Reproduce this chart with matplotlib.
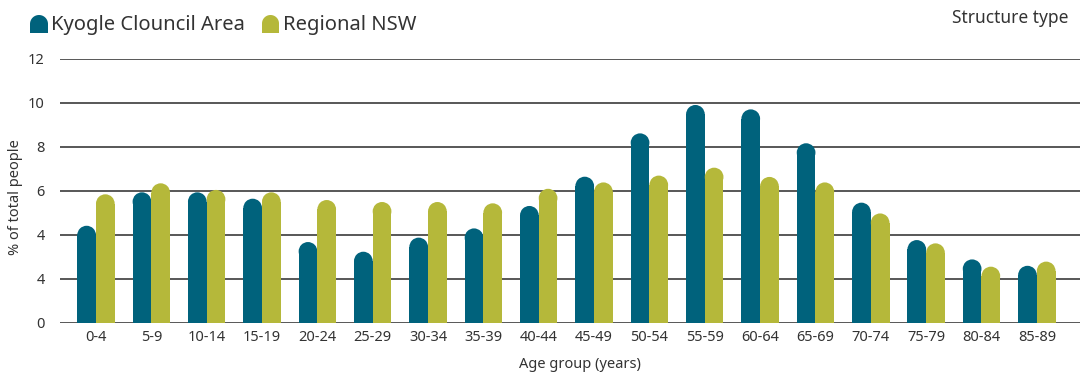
import matplotlib
matplotlib.use("Agg")
import matplotlib.pyplot as plt
from matplotlib.patches import Rectangle, Ellipse, Polygon
import numpy as np

categories = ["0-4", "5-9", "10-14", "15-19", "20-24", "25-29", "30-34", "35-39",
              "40-44", "45-49", "50-54", "55-59", "60-64", "65-69", "70-74",
              "75-79", "80-84", "85-89"]
kyogle = [4.42, 5.94, 5.94, 5.65, 3.68, 3.24, 3.88, 4.30, 5.32, 6.65, 8.62, 9.91,
          9.71, 8.17, 5.47, 3.77, 2.89, 2.60]
regional = [5.85, 6.35, 6.05, 5.94, 5.59, 5.50, 5.50, 5.44, 6.10, 6.39, 6.70, 7.06,
            6.64, 6.39, 4.98, 3.62, 2.56, 2.79]
ytick_values = [0, 2, 4, 6, 8, 10, 12]
ytick_labels = ["0", "4", "4", "6", "8", "10", "12"]
series_names = ["Kyogle Clouncil Area", "Regional NSW"]

C_K = "#00627c"
C_R = "#b5b83a"
TXT = "#333333"
FONT = ["Noto Sans", "DejaVu Sans"]
plt.rcParams["font.family"] = FONT

W, H = 1085, 374
fig = plt.figure(figsize=(W / 100, H / 100), dpi=100)
ax = fig.add_axes([60 / W, (H - 323) / H, (1080 - 60) / W, (323 - 59) / H])
ax.set_xlim(-0.65, 17.78)
ax.set_ylim(0, 12)

# pixel scale for round caps
px_x = (1080 - 60) / (17.78 + 0.65)
px_y = (323 - 59) / 12.0
w = 0.338
r_y = (w * px_x / 2) / px_y

x = np.arange(len(categories))
for vals, off, col in [(kyogle, -w / 2, C_K), (regional, w / 2, C_R)]:
    for xi, v in zip(x, vals):
        xc = xi + off
        ax.add_patch(Rectangle((xc - w / 2, 0), w, v - r_y, facecolor=col,
                               edgecolor="none", zorder=3))
        ax.add_patch(Ellipse((xc, v - r_y), w, 2 * r_y, facecolor=col,
                             edgecolor="none", zorder=3))

ax.set_yticks(ytick_values)
ax.set_yticklabels(ytick_labels)
ax.set_xticks(x)
ax.set_xticklabels(categories)
ax.grid(axis="y", color="#2a2a2a", linewidth=1.1, zorder=0)
ax.set_axisbelow(True)
for s in ax.spines.values():
    s.set_visible(False)
ax.tick_params(axis="both", length=0, labelsize=10.5, colors=TXT)
ax.tick_params(axis="y", pad=11)
ax.tick_params(axis="x", pad=5)

# overlay for legend / labels in pixel coordinates
ov = fig.add_axes([0, 0, 1, 1], zorder=5)
ov.set_xlim(0, W)
ov.set_ylim(H, 0)
ov.axis("off")


def dome(x0, x1, ytop, ybot, color):
    r = (x1 - x0) / 2
    cx = (x0 + x1) / 2
    cy = ytop + r
    t = np.linspace(0, np.pi, 40)
    pts = [(cx + r * np.cos(a), cy - r * np.sin(a)) for a in t]
    pts += [(x0, ybot), (x1, ybot)]
    ov.add_patch(Polygon(pts, closed=True, facecolor=color, edgecolor="none"))


dome(30, 48, 15, 33, C_K)
ov.text(51, 25, series_names[0], fontsize=14.5, color=TXT, va="center", ha="left")
dome(262, 279, 15, 33, C_R)
ov.text(283, 25, series_names[1], fontsize=14.5, color=TXT, va="center", ha="left")
ov.text(1068, 18, "Structure type", fontsize=12.5, color=TXT, va="center", ha="right")
ov.text(16, 197, "% of total people", fontsize=10.5, color=TXT, va="center",
        ha="center", rotation=90)
ov.text(580, 365, "Age group (years)", fontsize=10.5, color=TXT, va="center",
        ha="center")

fig.savefig("out.png", dpi=100)
